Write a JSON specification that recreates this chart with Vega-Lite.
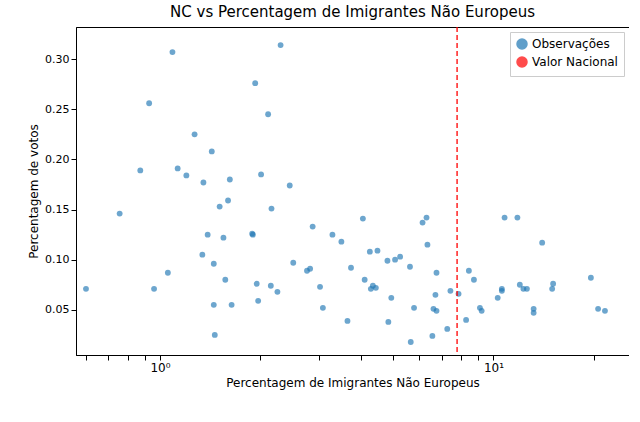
{
  "$schema": "https://vega.github.io/schema/vega-lite/v6.json",
  "width": 553,
  "height": 328,
  "padding": {"left": 27, "top": 5, "right": 0, "bottom": 5},
  "title": {"text": "NC vs Percentagem de Imigrantes Não Europeus", "fontSize": 15, "fontWeight": "normal", "font": "DejaVu Sans", "offset": 6},
  "config": {
    "font": "DejaVu Sans",
    "axis": {"grid": false, "domainColor": "black", "tickColor": "black", "labelColor": "black", "labelFontSize": 11, "titleFontSize": 12, "titleFontWeight": "normal"},
    "view": {"stroke": "black"}
  },
  "datasets": {
    "pts": [
      {"x":0.6,"y":0.071},{"x":0.757,"y":0.146},{"x":0.873,"y":0.189},{"x":0.928,"y":0.256},{"x":0.96,"y":0.071},
      {"x":1.056,"y":0.087},{"x":1.09,"y":0.307},{"x":1.13,"y":0.191},{"x":1.2,"y":0.184},{"x":1.27,"y":0.225},
      {"x":1.34,"y":0.105},{"x":1.35,"y":0.177},{"x":1.39,"y":0.125},{"x":1.43,"y":0.208},{"x":1.45,"y":0.096},
      {"x":1.45,"y":0.055},{"x":1.46,"y":0.025},{"x":1.51,"y":0.153},{"x":1.55,"y":0.122},{"x":1.57,"y":0.08},
      {"x":1.6,"y":0.159},{"x":1.62,"y":0.18},{"x":1.64,"y":0.055},{"x":1.89,"y":0.126},{"x":1.9,"y":0.125},
      {"x":1.93,"y":0.276},{"x":1.95,"y":0.076},{"x":1.97,"y":0.059},{"x":2.01,"y":0.185},{"x":2.11,"y":0.245},
      {"x":2.15,"y":0.074},{"x":2.16,"y":0.151},{"x":2.25,"y":0.068},{"x":2.3,"y":0.314},{"x":2.45,"y":0.174},
      {"x":2.51,"y":0.097},{"x":2.76,"y":0.089},{"x":2.82,"y":0.091},{"x":2.87,"y":0.133},{"x":3.02,"y":0.073},
      {"x":3.08,"y":0.052},{"x":3.29,"y":0.125},{"x":3.5,"y":0.118},{"x":3.65,"y":0.039},{"x":3.74,"y":0.092},
      {"x":4.06,"y":0.141},{"x":4.11,"y":0.08},{"x":4.26,"y":0.108},{"x":4.29,"y":0.071},{"x":4.35,"y":0.074},
      {"x":4.49,"y":0.109},{"x":4.44,"y":0.072},{"x":4.81,"y":0.099},{"x":4.84,"y":0.038},{"x":4.94,"y":0.062},
      {"x":5.07,"y":0.1},{"x":5.25,"y":0.103},{"x":5.62,"y":0.093},{"x":5.65,"y":0.018},{"x":5.78,"y":0.052},
      {"x":6.13,"y":0.137},{"x":6.3,"y":0.142},{"x":6.34,"y":0.115},{"x":6.56,"y":0.024},{"x":6.61,"y":0.051},
      {"x":6.7,"y":0.065},{"x":6.75,"y":0.087},{"x":6.75,"y":0.049},{"x":7.27,"y":0.031},{"x":7.43,"y":0.069},
      {"x":7.86,"y":0.066},{"x":8.28,"y":0.04},{"x":8.44,"y":0.089},{"x":8.74,"y":0.08},{"x":9.11,"y":0.052},
      {"x":9.22,"y":0.049},{"x":10.3,"y":0.062},{"x":10.6,"y":0.069},{"x":10.6,"y":0.071},{"x":10.8,"y":0.142},
      {"x":11.8,"y":0.142},{"x":12.0,"y":0.075},{"x":12.3,"y":0.071},{"x":12.6,"y":0.071},{"x":13.2,"y":0.051},
      {"x":13.2,"y":0.047},{"x":14.0,"y":0.117},{"x":15.0,"y":0.071},{"x":15.1,"y":0.076},{"x":19.6,"y":0.082},
      {"x":20.6,"y":0.051},{"x":21.6,"y":0.049}
    ],
    "nat": [{"x": 7.78}]
  },
  "layer": [
    {
      "data": {"name": "pts"},
      "mark": {"type": "circle", "size": 34, "opacity": 0.65},
      "encoding": {
        "x": {"field": "x", "type": "quantitative", "scale": {"type": "log", "domain": [0.56, 25.5], "nice": false},
          "title": "Percentagem de Imigrantes Não Europeus",
          "axis": {"values": [0.6,0.7,0.8,0.9,1,2,3,4,5,6,7,8,9,10,20], "labelExpr": "datum.value == 1 ? '10⁰' : datum.value == 10 ? '10¹' : ''", "labelFontSize": 12}},
        "y": {"field": "y", "type": "quantitative", "scale": {"domain": [0.005, 0.332], "nice": false},
          "title": "Percentagem de votos",
          "axis": {"values": [0.05,0.1,0.15,0.2,0.25,0.3], "format": ".2f"}},
        "color": {"datum": "Observações", "type": "nominal",
          "scale": {"domain": ["Observações", "Valor Nacional"], "range": ["#1f77b4", "red"]},
          "legend": {"title": null, "orient": "top-right", "offset": 5, "labelFontSize": 12, "strokeColor": "#ccc", "fillColor": "white", "padding": 6, "symbolOpacity": 0.7}}
      }
    },
    {
      "data": {"name": "nat"},
      "mark": {"type": "rule", "strokeDash": [5, 3], "strokeWidth": 1.3},
      "encoding": {
        "x": {"field": "x", "type": "quantitative"},
        "color": {"datum": "Valor Nacional", "type": "nominal"}
      }
    }
  ]
}
